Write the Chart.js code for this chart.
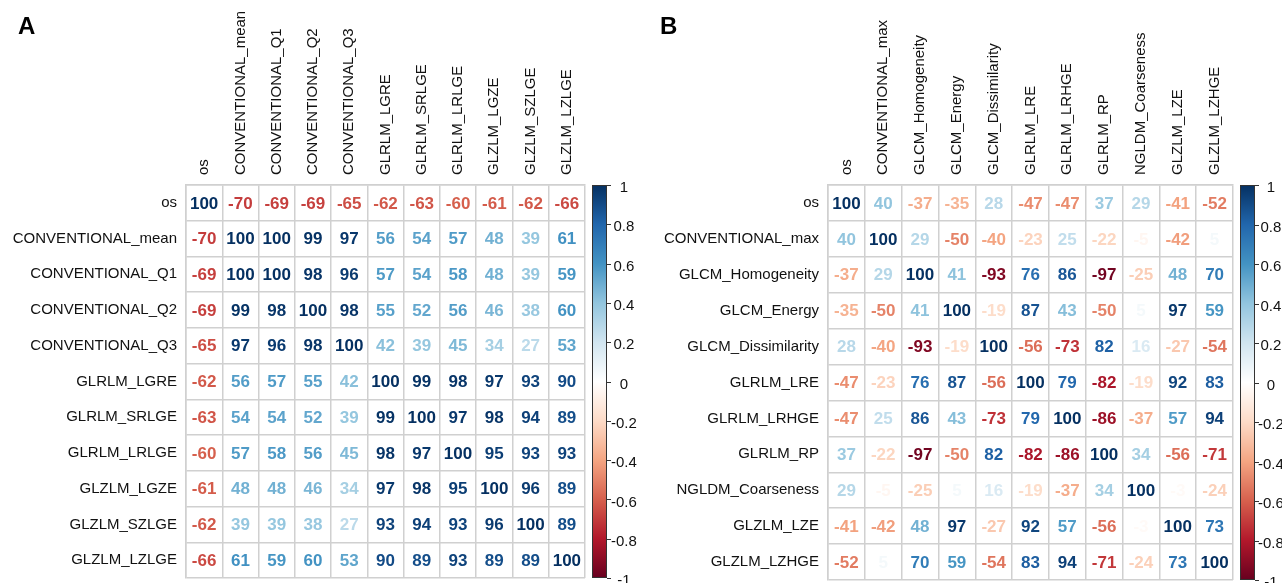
<!DOCTYPE html>
<html>
<head>
<meta charset="utf-8">
<script src="https://cdn.jsdelivr.net/npm/chart.js@4/dist/chart.umd.min.js"></script>
<style>
    body { margin: 0; background: #fff; width: 1282px; height: 583px; overflow: hidden; position: relative;
           font-family: "Liberation Sans", Arial, sans-serif; }
    .panel { position: absolute; top: 0; width: 641px; height: 583px; }
    .tag { position: absolute; top: 14px; font-weight: bold; font-size: 24px; line-height: 24px; color: #000; }
</style>
</head>
<body>
<div class="panel" style="left:0"><canvas id="chartA" width="641" height="583"></canvas></div>
<div class="panel" style="left:641px"><canvas id="chartB" width="641" height="583"></canvas></div>
<div class="tag" style="left:18px">A</div>
<div class="tag" style="left:660px">B</div>
<script>
// Panel A variables and correlations (x100)
const varsA = ['os', 'CONVENTIONAL_mean', 'CONVENTIONAL_Q1', 'CONVENTIONAL_Q2', 'CONVENTIONAL_Q3',
    'GLRLM_LGRE', 'GLRLM_SRLGE', 'GLRLM_LRLGE', 'GLZLM_LGZE', 'GLZLM_SZLGE', 'GLZLM_LZLGE'];
const corrA = [
    [100, -70, -69, -69, -65, -62, -63, -60, -61, -62, -66],
    [-70, 100, 100, 99, 97, 56, 54, 57, 48, 39, 61],
    [-69, 100, 100, 98, 96, 57, 54, 58, 48, 39, 59],
    [-69, 99, 98, 100, 98, 55, 52, 56, 46, 38, 60],
    [-65, 97, 96, 98, 100, 42, 39, 45, 34, 27, 53],
    [-62, 56, 57, 55, 42, 100, 99, 98, 97, 93, 90],
    [-63, 54, 54, 52, 39, 99, 100, 97, 98, 94, 89],
    [-60, 57, 58, 56, 45, 98, 97, 100, 95, 93, 93],
    [-61, 48, 48, 46, 34, 97, 98, 95, 100, 96, 89],
    [-62, 39, 39, 38, 27, 93, 94, 93, 96, 100, 89],
    [-66, 61, 59, 60, 53, 90, 89, 93, 89, 89, 100]
];

// Panel B variables and correlations (x100)
const varsB = ['os', 'CONVENTIONAL_max', 'GLCM_Homogeneity', 'GLCM_Energy', 'GLCM_Dissimilarity',
    'GLRLM_LRE', 'GLRLM_LRHGE', 'GLRLM_RP', 'NGLDM_Coarseness', 'GLZLM_LZE', 'GLZLM_LZHGE'];
const corrB = [
    [100, 40, -37, -35, 28, -47, -47, 37, 29, -41, -52],
    [40, 100, 29, -50, -40, -23, 25, -22, -5, -42, 5],
    [-37, 29, 100, 41, -93, 76, 86, -97, -25, 48, 70],
    [-35, -50, 41, 100, -19, 87, 43, -50, 5, 97, 59],
    [28, -40, -93, -19, 100, -56, -73, 82, 16, -27, -54],
    [-47, -23, 76, 87, -56, 100, 79, -82, -19, 92, 83],
    [-47, 25, 86, 43, -73, 79, 100, -86, -37, 57, 94],
    [37, -22, -97, -50, 82, -82, -86, 100, 34, -56, -71],
    [29, -5, -25, 5, 16, -19, -37, 34, 100, -3, -24],
    [-41, -42, 48, 97, -27, 92, 57, -56, -3, 100, 73],
    [-52, 5, 70, 59, -54, 83, 94, -71, -24, 73, 100]
];

// Colour bar ticks
const cbTicks = [1, 0.8, 0.6, 0.4, 0.2, 0, -0.2, -0.4, -0.6, -0.8, -1];

// RdBu palette, from -1 to 1
const palette = ['#67001F', '#B2182B', '#D6604D', '#F4A582', '#FDDBC7', '#FFFFFF',
    '#D1E5F0', '#92C5DE', '#4393C3', '#2166AC', '#053061'];

const gridColor = '#d0d0d0';
const labelFont = { family: '"Liberation Sans", Arial, sans-serif', size: 15 };

function hexToRgb(h) {
    return [parseInt(h.slice(1, 3), 16), parseInt(h.slice(3, 5), 16), parseInt(h.slice(5, 7), 16)];
}

function corrColor(v) {
    const t = (v + 1) / 2 * (palette.length - 1);
    const i = Math.max(0, Math.min(Math.floor(t), palette.length - 2));
    const f = t - i;
    const a = hexToRgb(palette[i]), b = hexToRgb(palette[i + 1]);
    const c = a.map((x, k) => Math.round(x + (b[k] - x) * f));
    return `rgb(${c[0]}, ${c[1]}, ${c[2]})`;
}

// Numbers inside cells
const cellText = {
    id: 'cellText',
    afterDatasetsDraw(chart) {
        const ctx = chart.ctx;
        const meta = chart.getDatasetMeta(0);
        const data = chart.data.datasets[0].data;
        ctx.save();
        ctx.font = 'bold 17px "Liberation Sans", Arial, sans-serif';
        ctx.textAlign = 'center';
        ctx.textBaseline = 'middle';
        meta.data.forEach((pt, i) => {
            const v = data[i].v;
            ctx.fillStyle = corrColor(v / 100);
            ctx.fillText(String(v), pt.x, pt.y + 1);
        });
        ctx.restore();
    }
};

// Gradient colour bar next to the matrix
const colorBar = {
    id: 'colorBar',
    afterDraw(chart) {
        const s = chart.scales.cb;
        const ctx = chart.ctx;
        const x0 = chart.chartArea.right + 7, w = 15;
        const yTop = s.getPixelForValue(1), yBot = s.getPixelForValue(-1);
        const g = ctx.createLinearGradient(0, yBot, 0, yTop);
        palette.forEach((c, i) => g.addColorStop(i / (palette.length - 1), c));
        ctx.save();
        ctx.fillStyle = g;
        ctx.fillRect(x0, yTop, w, yBot - yTop);
        ctx.strokeStyle = '#333';
        ctx.lineWidth = 1;
        ctx.strokeRect(x0 + 0.5, yTop + 0.5, w - 1, yBot - yTop - 1);
        ctx.beginPath();
        cbTicks.forEach(v => {
            const y = Math.round(s.getPixelForValue(v)) + 0.5;
            ctx.moveTo(x0 + w, y);
            ctx.lineTo(x0 + w + 4, y);
        });
        ctx.stroke();
        ctx.restore();
    }
};

function makeChart(id, vars, corr, geo) {
    const points = [];
    vars.forEach((rv, i) => {
        vars.forEach((cv, j) => points.push({ x: cv, y: rv, v: corr[i][j] }));
    });

    return new Chart(document.getElementById(id), {
        type: 'scatter',
        data: { datasets: [{ data: points, pointRadius: 0, pointHoverRadius: 0 }] },
        options: {
            responsive: false,
            animation: false,
            events: [],
            layout: { padding: { top: 0, left: 0, right: 0, bottom: geo.bottom } },
            plugins: { legend: { display: false }, tooltip: { enabled: false } },
            scales: {
                x: {
                    type: 'category', labels: vars, position: 'top', offset: true,
                    grid: { offset: true, color: gridColor, lineWidth: 1.5, drawTicks: false },
                    border: { color: gridColor, width: 1.5 },
                    ticks: {
                        autoSkip: false, minRotation: 90, maxRotation: 90, padding: 10, labelOffset: 18,
                        color: '#111', font: labelFont
                    },
                    afterFit(s) { s.height = geo.top; s.paddingLeft = 0; s.paddingRight = 0; }
                },
                y: {
                    type: 'category', labels: vars, position: 'left', offset: true,
                    grid: { offset: true, color: gridColor, lineWidth: 1.5, drawTicks: false },
                    border: { color: gridColor, width: 1.5 },
                    ticks: { autoSkip: false, padding: 9, color: '#111', font: labelFont },
                    afterFit(s) { s.width = geo.left; s.paddingTop = 0; s.paddingBottom = 0; }
                },
                cb: {
                    type: 'linear', position: 'right', min: -1, max: 1,
                    grid: { display: false, drawTicks: false },
                    border: { display: false },
                    ticks: {
                        padding: geo.cbPad, crossAlign: 'center', labelOffset: 3, color: '#111', font: labelFont,
                        callback: v => String(Math.round(v * 10) / 10)
                    },
                    afterBuildTicks(s) { s.ticks = cbTicks.map(v => ({ value: v })); },
                    afterFit(s) { s.width = geo.right; s.paddingTop = 0; s.paddingBottom = 0; }
                }
            }
        },
        plugins: [cellText, colorBar]
    });
}

makeChart('chartA', varsA, corrA, { top: 185, left: 186, right: 56, bottom: 5, cbPad: 26 });
makeChart('chartB', varsB, corrB, { top: 185, left: 187, right: 49, bottom: 3, cbPad: 25 });
</script>
</body>
</html>
